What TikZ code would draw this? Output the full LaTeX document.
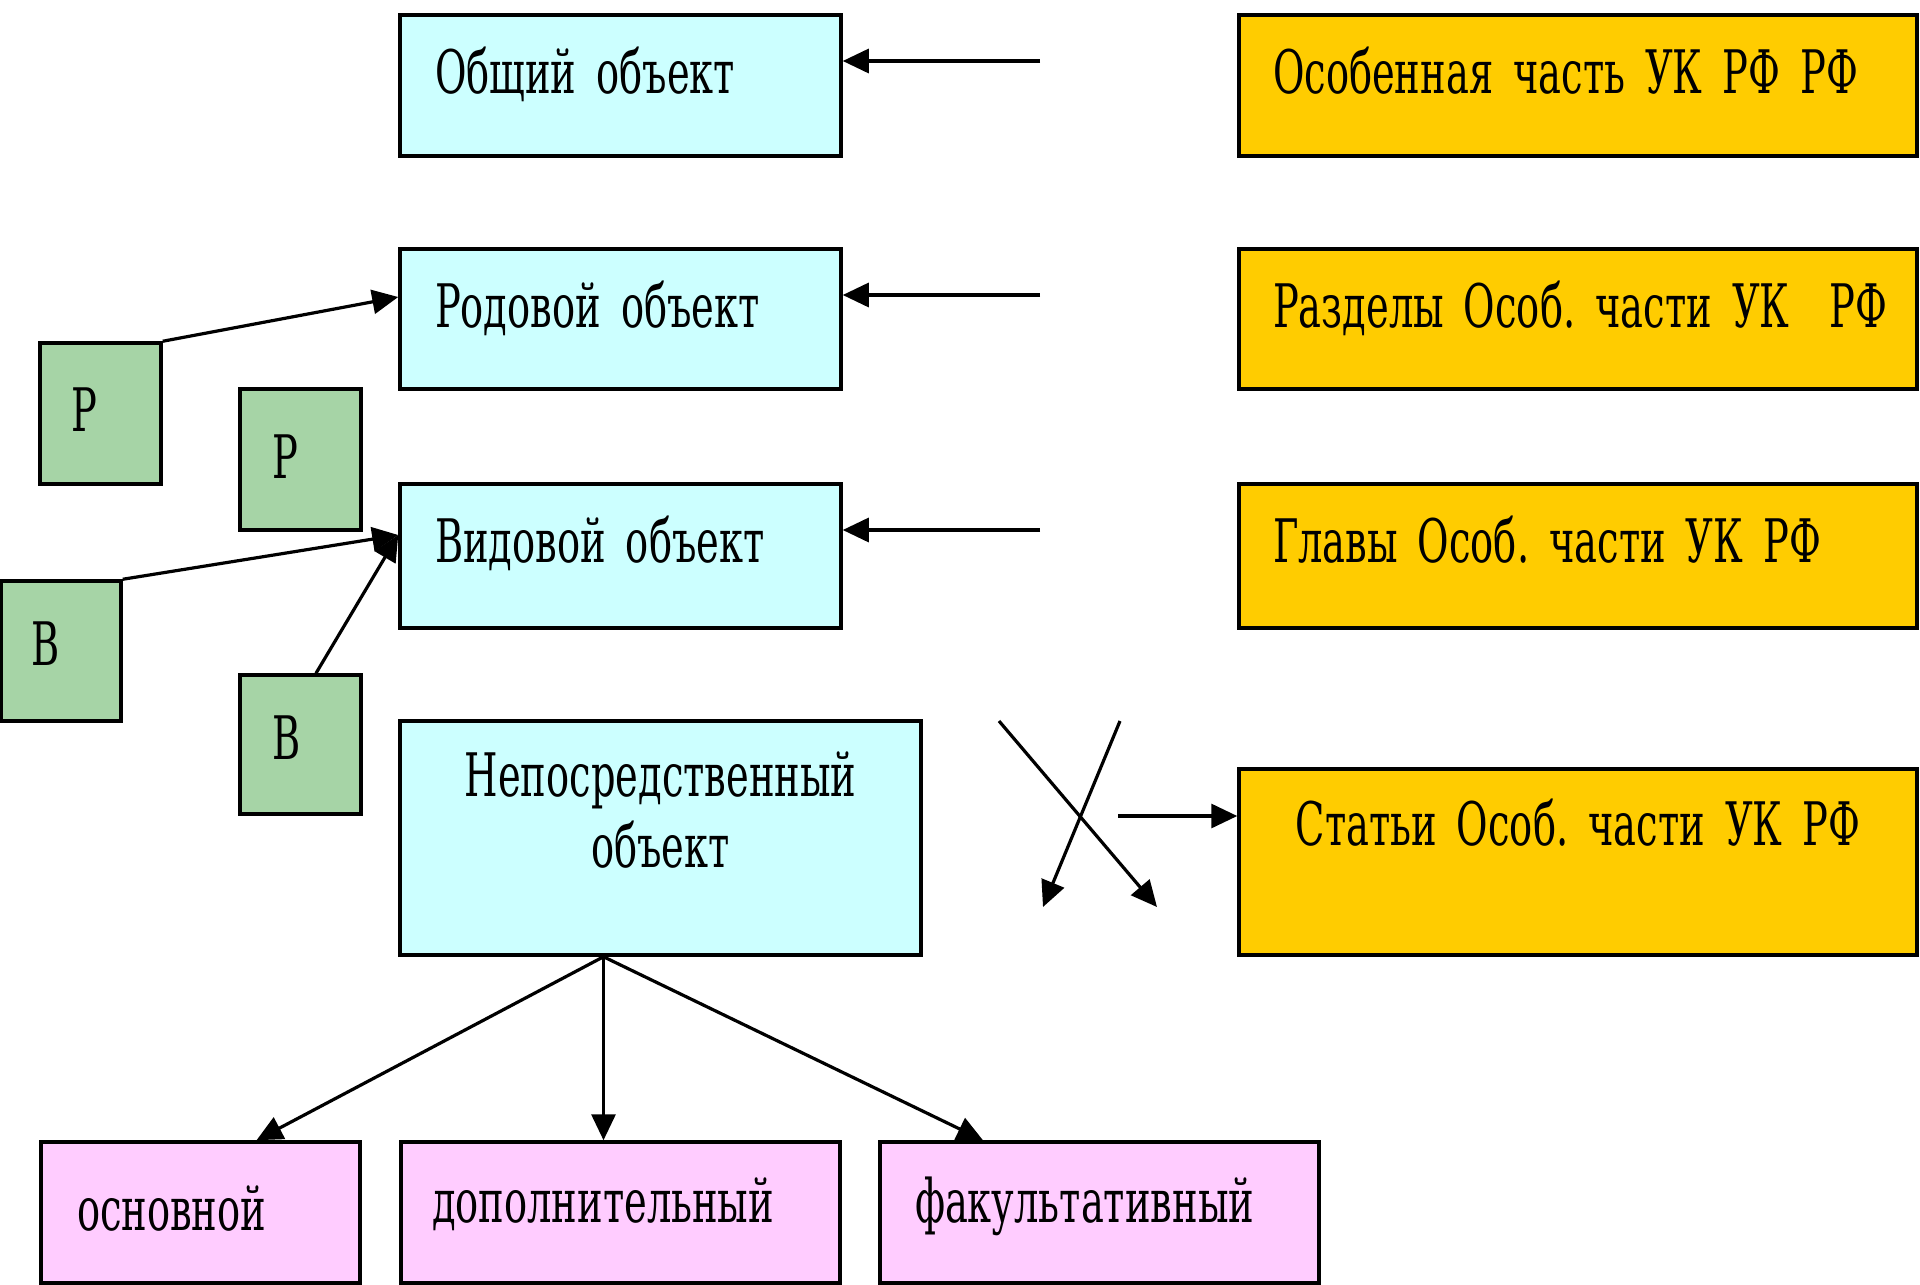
\documentclass[tikz,border=0pt]{standalone}
\usepackage{fontspec}
\setmainfont{DejaVu Serif}[FakeStretch=0.64]
\usetikzlibrary{arrows.meta}
\definecolor{cyanf}{RGB}{204,255,255}
\definecolor{orangef}{RGB}{255,204,0}
\definecolor{greenf}{RGB}{166,212,166}
\definecolor{pinkf}{RGB}{255,204,255}
\newcommand\myboxfont{\fontsize{60pt}{71pt}\selectfont\frenchspacing\spaceskip=7pt\relax}
\begin{document}
\begin{tikzpicture}[x=1pt,y=1pt,
  bx/.style={draw=black, line width=3.5pt, inner sep=0pt, align=left,
    font=\myboxfont},
  cbox/.style={bx, fill=cyanf},
  obox/.style={bx, fill=orangef},
  gbox/.style={bx, fill=greenf},
  pbox/.style={bx, fill=pinkf},
  arr/.style={draw=black, line width=3.2pt, -{Triangle[length=26pt,width=24pt]}}]
\useasboundingbox[fill=white] (0,0) rectangle (1920,-1285);
% cyan column
\node[cbox, text width=441pt, text height=78pt, text depth=63pt] (obs) at (620.5,-85.5) {\hspace*{35pt}Общий объект};
\node[cbox, text width=441pt, text height=78pt, text depth=62pt] (rod) at (620.5,-319) {\hspace*{35pt}Родовой объект};
\node[cbox, text width=441pt, text height=78pt, text depth=66pt] (vid) at (620.5,-556) {\hspace*{35pt}Видовой объект};
\node[cbox, text width=521pt, align=center, text height=75pt, text depth=159pt] (nep) at (660.5,-838) {Непосредственный\\объект};
% orange column
\node[obox, text width=678pt, text height=78pt, text depth=63pt] (osp) at (1578,-85.5) {\hspace*{34pt}Особенная часть УК РФ РФ};
\node[obox, text width=678pt, text height=78pt, text depth=62pt] (raz) at (1578,-319) {\hspace*{34pt}Разделы Особ. части УК~~РФ};
\node[obox, text width=678pt, text height=78pt, text depth=66pt] (glv) at (1578,-556) {\hspace*{34pt}Главы Особ. части УК РФ};
\node[obox, text width=678pt, align=center, text height=76pt, text depth=110pt] (stat) at (1578,-862) {Статьи Особ. части УК РФ};
% green squares
\node[gbox, text width=121pt, text height=88pt, text depth=53pt] (r1) at (100.5,-413.5) {\hspace*{31pt}Р};
\node[gbox, text width=121pt, text height=89pt, text depth=52pt] (r2) at (300.5,-459.5) {\hspace*{32pt}Р};
\node[gbox, text width=119.5pt, text height=84pt, text depth=56pt] (v1) at (61.25,-651) {\hspace*{30pt}В};
\node[gbox, text width=121pt, text height=84pt, text depth=55pt] (v2) at (300.5,-744.5) {\hspace*{32pt}В};
% pink boxes
\node[pbox, text width=319pt, text height=88pt, text depth=53pt] (osn) at (200.5,-1212.5) {\hspace*{36pt}основной};
\node[pbox, text width=439pt, text height=80pt, text depth=61pt] (dop) at (620.5,-1212.5) {\hspace*{31pt}дополнительный};
\node[pbox, text width=439pt, text height=80pt, text depth=61pt] (fak) at (1099.5,-1212.5) {\hspace*{35pt}факультативный};
% arrows from the right column
\coordinate (a1) at (1040,-61);
\coordinate (a2) at (1040,-295);
\coordinate (a3) at (1040,-530);
\draw[arr] (a1) -- (obs.east |- a1);
\draw[arr] (a2) -- (rod.east |- a2);
\draw[arr] (a3) -- (vid.east |- a3);
% green arrows
\draw[arr] (r1.north east) -- ([yshift=22pt]rod.west);
\draw[arr] (v1.north east) -- ([yshift=21pt]vid.west);
\draw[arr] ([xshift=15.5pt]v2.north) -- ([yshift=21pt]vid.west);
% arrows down from Непосредственный объект
\coordinate (nb) at ([xshift=-57pt]nep.south);
\draw[arr] (nb) -- ([xshift=56pt]osn.north);
\draw[arr] (nb) -- (nb |- dop.north);
\draw[arr] (nb) -- ([xshift=-116.5pt]fak.north);
% crossed arrows
\coordinate (x1s) at (999,-721);
\coordinate (x1e) at (1157,-907);
\coordinate (x2s) at (1120,-721);
\coordinate (x2e) at (1043,-907);
\draw[arr] (x1s) -- (x1e);
\draw[arr] (x2s) -- (x2e);
\coordinate (s3) at (1118,-816);
\draw[arr] (s3) -- (stat.west |- s3);
\end{tikzpicture}
\end{document}
